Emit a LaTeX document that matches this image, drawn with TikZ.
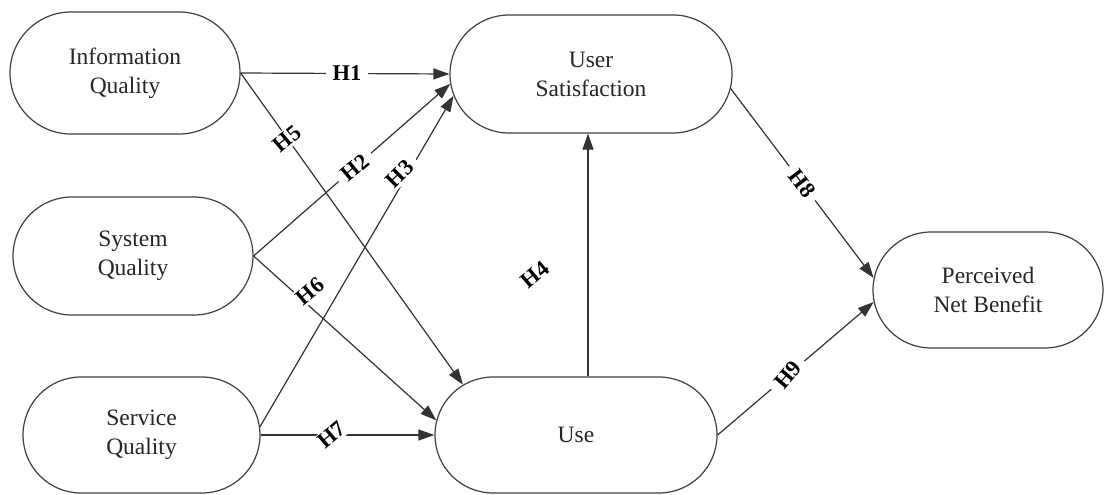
\documentclass[tikz,border=0pt]{standalone}
\usepackage{fontspec}
\setmainfont{Liberation Serif}
\usetikzlibrary{arrows.meta,shapes.misc}
\begin{document}
\begin{tikzpicture}[x=1pt,y=-1pt,
  box/.style={rounded rectangle, draw=black!75, line width=1.2pt, align=center,
    font=\fontsize{23.5}{29}\selectfont, text=black!85, inner sep=0pt},
  link/.style={draw=black!80, line width=1.2pt, -{Triangle[length=16pt,width=11pt]}},
  lab/.style={font=\bfseries\fontsize{22.5}{24}\selectfont, fill=white, inner xsep=7pt, inner ysep=2pt}
]
\fill[white] (0,0) rectangle (1106,495);
\useasboundingbox (0,0) rectangle (1106,495);

\node[box, minimum width=230pt, minimum height=122pt] (iq) at (125,73) {Information\\Quality};
\node[box, minimum width=240pt, minimum height=118pt] (sysq) at (133,256) {System\\Quality};
\node[box, minimum width=237pt, minimum height=116pt] (servq) at (141.5,435) {Service\\Quality};
\node[box, minimum width=282pt, minimum height=118pt] (us) at (591,74) {User\\Satisfaction};
\node[box, minimum width=282pt, minimum height=116pt] (use) at (576,435) {Use};
\node[box, minimum width=230pt, minimum height=116pt] (pnb) at (988,290) {Perceived\\Net Benefit};

\draw[link] (iq.east) -- node[lab, pos=0.51]{H1} (us.west);
\draw[link] (iq.east) -- node[lab, pos=0.21, rotate=40]{H5} (use.156);
\draw[link] (sysq.east) -- node[lab, pos=0.515, rotate=40]{H2} (us.184);
\draw[link] (servq.4) -- node[lab, pos=0.764, xshift=-8pt, rotate=45]{H3} (us.189);
\draw[link] (sysq.east) -- node[lab, pos=0.27, xshift=7pt, yshift=9pt, rotate=40]{H6} (use.174);
\draw[link] (servq.east) -- node[lab, pos=0.41, rotate=40]{H7} (use.west);
\draw[link] ([xshift=12pt]use.north) -- node[lab, pos=0.42, xshift=-53pt, rotate=40]{H4} ([xshift=-3pt]us.south);
\draw[link] (us.354) -- node[lab, pos=0.5, sloped]{H8} (pnb.174);
\draw[link] (use.east) -- node[lab, pos=0.45, rotate=50]{H9} (pnb.186);
\end{tikzpicture}
\end{document}
